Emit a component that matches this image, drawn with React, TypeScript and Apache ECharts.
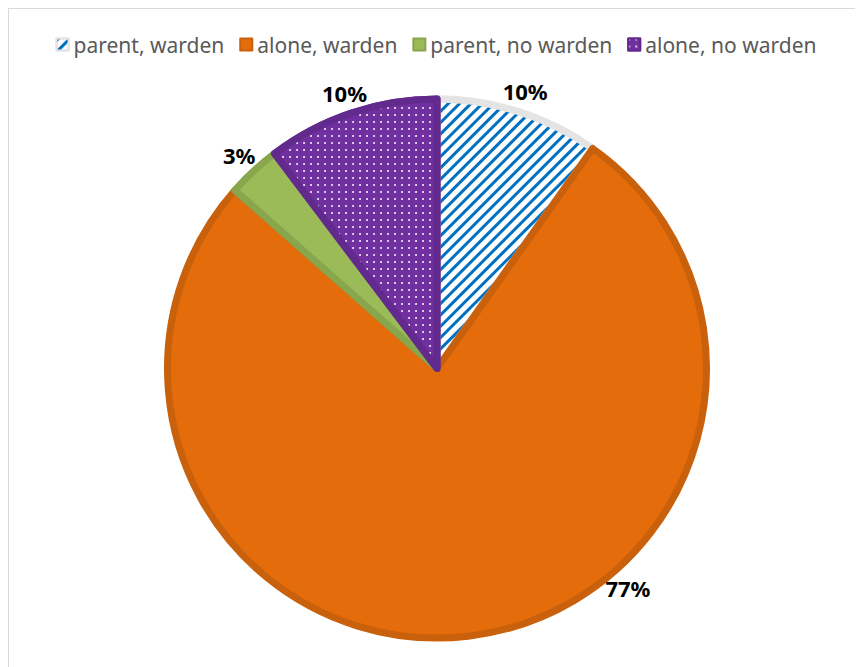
import React, { useEffect, useRef } from "react";
import * as echarts from "echarts";

const categories = ["parent, warden", "alone, warden", "parent, no warden", "alone, no warden"];
const values = [9.8, 76.7, 3.2, 10.3];
const fillColors = ["#FFFFFF", "#E46C0A", "#9BBB59", "#7030A0"];
const borderColors = ["#E4E4E4", "#C9600B", "#88A64C", "#632A8E"];

export default function App() {
  const ref = useRef<HTMLDivElement>(null);
  useEffect(() => {
    if (!ref.current) return;
    const chart = echarts.init(ref.current, null, { renderer: "svg" });
    const cx = 428;
    const cy = 359.5;
    const total = values.reduce((a, b) => a + b, 0);
    const midAngles: number[] = [];
    let acc = 0;
    values.forEach((v) => {
      const a = (v / total) * 360;
      midAngles.push(acc + a / 2);
      acc += a;
    });
    const labelR = 291;
    const decals: any[] = [
      {
        color: "#0070C0",
        symbol: "rect",
        dashArrayX: [1, 0],
        dashArrayY: [3, 5],
        rotation: -Math.PI / 4,
      },
      null,
      null,
      {
        color: "#FFFFFF",
        symbol: "circle",
        symbolSize: 0.9,
        dashArrayX: [2, 5],
        dashArrayY: [2, 5],
      },
    ];
    const data = categories.map((name, i) => {
      const item: any = {
        name,
        value: values[i],
        itemStyle: {
          color: fillColors[i],
          borderColor: borderColors[i],
          borderWidth: 7,
        },
      };
      if (decals[i]) item.itemStyle.decal = decals[i];
      return item;
    });
    chart.setOption({
      animation: false,
      backgroundColor: "#FFFFFF",
      aria: { enabled: false, decal: { show: true } },
      legend: {
        top: 20,
        left: "center",
        itemWidth: 12,
        itemHeight: 12,
        itemGap: 15,
        icon: "rect",
        textStyle: { fontSize: 21, color: "#595959", fontFamily: "Noto Sans" },
        data: categories,
      },
      series: [
        {
          type: "pie",
          center: [cx, cy],
          radius: [0, 269.5],
          startAngle: 90,
          clockwise: true,
          data,
          label: {
            show: true,
            position: "outside",
            formatter: (p: any) => Math.round(p.percent) + "%",
            fontSize: 22,
            fontWeight: "bold",
            color: "#000000",
            fontFamily: "Noto Sans",
          },
          labelLine: { show: false },
          labelLayout: (p: any) => {
            let ang = midAngles[p.dataIndex];
            if (p.dataIndex === 1) ang = 139;
            const rad = (ang * Math.PI) / 180;
            return {
              x: cx + labelR * Math.sin(rad),
              y: cy - labelR * Math.cos(rad),
              align: "center",
              verticalAlign: "middle",
            };
          },
          emphasis: { disabled: true },
        },
      ],
    });
    return () => chart.dispose();
  }, []);
  return (
    <div
      ref={ref}
      style={{
        width: 855,
        height: 659,
        borderLeft: "1px solid #D9D9D9",
        borderTop: "1px solid #D9D9D9",
        boxSizing: "border-box",
        overflow: "hidden",
      }}
    />
  );
}
